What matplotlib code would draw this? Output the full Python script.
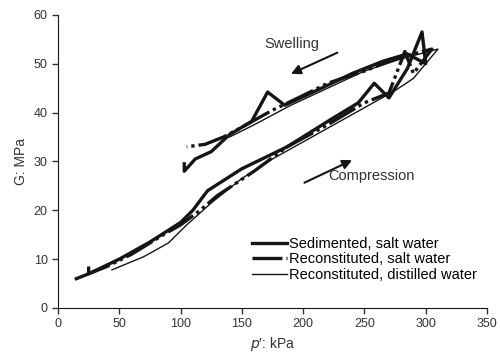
import matplotlib

matplotlib.use("Agg")

import matplotlib.pyplot as plt

plt.rcParams["font.family"] = ["Liberation Sans", "DejaVu Sans"]

# Sedimented, salt water: compression then swelling
sed_x = [15, 25, 50, 75, 100, 110, 122, 150, 187, 222, 245, 258, 270, 285, 297, 300,
         285, 265, 240, 215, 185, 171, 158, 140, 125, 112, 103, 103]
sed_y = [6, 7, 10, 13.5, 17.5, 20, 24, 28.5, 33, 38.5, 42, 46, 43, 49, 56.5, 50,
         52, 50.5, 48, 45, 41.5, 44.2, 38.2, 35.5, 32, 30.5, 28, 29.5]

# Reconstituted, salt water
rsalt_x = [25, 25, 40, 60, 88, 100, 116, 130, 160, 187, 220, 250, 270, 283, 290, 305,
           275, 250, 220, 200, 175, 150, 135, 120, 105]
rsalt_y = [8.5, 7, 8.5, 11, 15.3, 17, 20, 23, 28, 33, 37.5, 42, 44, 52.5, 48, 53,
           51, 48.5, 46, 43.5, 40.5, 37, 35, 33.5, 33]

# Reconstituted, distilled water
rdist_x = [44, 70, 90, 105, 125, 150, 175, 200, 225, 250, 275, 290, 310,
           280, 250, 220, 190, 160, 140]
rdist_y = [7.8, 10.5, 13.3, 17, 21.5, 26.5, 30.5, 34, 37.5, 41, 44.5, 47, 53,
           51, 48.5, 45, 41.5, 37.5, 35]

x_ticks = [0, 50, 100, 150, 200, 250, 300, 350]
y_ticks = [0, 10, 20, 30, 40, 50, 60]

ink = "#151515"
grey = "#333333"

fig = plt.figure(figsize=(5.0, 3.54), dpi=100)
ax = fig.add_axes([0.116, 0.130, 0.858, 0.828])

ax.plot(sed_x, sed_y, color=ink, linewidth=2.4, label="Sedimented, salt water")
ax.plot(rsalt_x, rsalt_y, color=ink, linewidth=2.4, linestyle=(0, (9, 1.2, 1, 1.2, 1, 1.2)),
        label="Reconstituted, salt water")
ax.plot(rdist_x, rdist_y, color=ink, linewidth=1.0, label="Reconstituted, distilled water")

ax.annotate("", xy=(188, 47.7), xytext=(230, 52.5),
            arrowprops=dict(arrowstyle="-|>", color=ink, lw=1.5, mutation_scale=14))
ax.text(191, 54.0, "Swelling", fontsize=10.5, ha="center", va="center", color=grey)
ax.annotate("", xy=(242, 30.5), xytext=(199, 25.4),
            arrowprops=dict(arrowstyle="-|>", color=ink, lw=1.5, mutation_scale=14))
ax.text(256, 27.0, "Compression", fontsize=10.5, ha="center", va="center", color=grey)

ax.set_xlim(0, 350)
ax.set_ylim(0, 60)
ax.set_xticks(x_ticks)
ax.set_yticks(y_ticks)
ax.tick_params(direction="out", length=4, width=1, labelsize=9, colors=grey)
ax.spines["top"].set_visible(False)
ax.spines["right"].set_visible(False)
ax.spines["left"].set_color(ink)
ax.spines["bottom"].set_color(ink)
ax.set_xlabel("$p$′: kPa", fontsize=10, labelpad=3, color=grey)
ax.set_ylabel("G: MPa", fontsize=10, labelpad=4, color=grey)

ax.legend(loc="lower right", bbox_to_anchor=(1.0, 0.055), frameon=False, fontsize=10.5,
          handlelength=2.4, handletextpad=0.15, labelspacing=0.1, borderpad=0.2)

plt.savefig("out.png", dpi=100)
plt.close()
